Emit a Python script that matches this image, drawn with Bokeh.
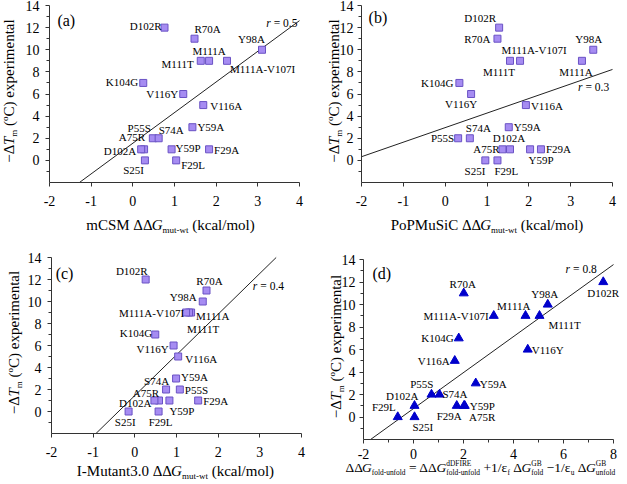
import math
from bokeh.plotting import figure
from bokeh.models import Range1d, FixedTicker, Label, LabelSet, ColumnDataSource, CustomJSTickFormatter
from bokeh.layouts import column, row
from bokeh.core.properties import value
from bokeh.embed import file_html
from bokeh.resources import INLINE

# ---------------- data ----------------
mutants = ["D102R", "R70A", "Y98A", "M111A", "M111T", "M111A-V107I", "K104G", "V116Y",
           "V116A", "Y59A", "P55S", "S74A", "A75R", "D102A", "Y59P", "F29A", "S25I", "F29L"]
neg_dtm = [12, 11, 10, 9, 9, 9, 7, 6, 5, 3, 2, 2, 1, 1, 1, 1, 0, 0]
mcsm = [0.76, 1.48, 3.10, 1.83, 1.63, 2.26, 0.25, 1.21, 1.69, 1.43, 0.48, 0.62, 0.27, 0.20, 0.93, 1.83, 0.29, 1.04]
popmusic = [1.29, 1.25, 3.54, 3.27, 1.55, 1.79, 0.34, 0.62, 1.93, 1.52, 0.31, 0.59, 1.37, 1.55, 2.03, 2.29, 0.96, 1.25]
imutant = [0.26, 1.72, 1.63, 1.35, 1.30, 1.23, 0.49, 0.93, 1.04, 0.99, 1.08, 0.75, 0.58, 0.47, 0.83, 1.52, -0.15, 0.57]
ddg_fold = [7.59, 2.01, 5.37, 4.48, 5.04, 3.21, 1.81, 4.57, 1.65, 2.49, 0.72, 1.04, 2.02, 0.04, 2.05, 1.73, 0.04, -0.63]

# fitted lines: (slope, intercept)
fit_a = (2.77, 1.55)
fit_b = (1.315, 2.96)
fit_c = (3.70, 1.45)
fit_d = (1.60, 0.75)
r_values = ["0.5", "0.3", "0.4", "0.8"]
panel_letters = ["(a)", "(b)", "(c)", "(d)"]

x_ticks_abc = [-2, -1, 0, 1, 2, 3, 4]
x_ticks_d = [-2, 0, 2, 4, 6, 8]
x_minor_d = [-1, 1, 3, 5, 7]
y_ticks = [0, 2, 4, 6, 8, 10, 12, 14]
y_minor = [-1, 1, 3, 5, 7, 9, 11, 13]

# ---------------- styling / placement ----------------
FONT = "Liberation Serif"
SQ_FILL = "#A68CF2"
SQ_LINE = "#6A52C4"
TRI_FILL = "#0000CC"

# label placement per panel: mutant -> (align, dx, dy) in screen px
PLACE_A = {
    "D102R": ("right", -3, 2), "R70A": ("left", 0, 10), "Y98A": ("right", 3, 11),
    "M111A": ("center", 0, 10), "M111T": ("right", -7, -3), "M111A-V107I": ("left", 3, -8),
    "K104G": ("right", -5, 1), "V116Y": ("right", -5, 0), "V116A": ("left", 7, -1),
    "Y59A": ("left", 5, 0), "P55S": ("right", -2, 10), "S74A": ("left", 0, 8),
    "A75R": ("right", 1, 12), "D102A": ("right", -5, -2), "Y59P": ("left", 4, 1),
    "F29A": ("left", 5, -1), "S25I": ("right", -1, -10), "F29L": ("left", 5, -5),
}
PLACE_B = {
    "D102R": ("right", -3, 10), "R70A": ("right", -7, 0), "Y98A": ("right", 9, 11),
    "M111A-V107I": ("center", 14, 11), "M111T": ("center", -11, -11), "M111A": ("center", -6, -11),
    "K104G": ("right", -6, 0), "V116Y": ("center", -10, -10), "V116A": ("left", 5, -1),
    "Y59A": ("left", 5, 0), "S74A": ("left", -4, 10), "P55S": ("right", -4, 0),
    "D102A": ("center", -1, 11), "A75R": ("right", -3, 0), "Y59P": ("center", 11, -11),
    "F29A": ("left", 5, 0), "S25I": ("right", 0, -11), "F29L": ("left", -3, -11),
}
PLACE_C = {
    "D102R": ("right", 2, 9), "R70A": ("center", 3, 10), "Y98A": ("right", -6, 5),
    "M111A-V107I": ("right", -2, 0), "M111A": ("left", 5, -3), "M111T": ("left", -2, -16),
    "K104G": ("right", -3, 2), "V116Y": ("right", -5, -3), "V116A": ("left", 7, -2),
    "Y59A": ("left", 5, 2), "S74A": ("right", 3, 9), "P55S": ("left", 5, 0),
    "A75R": ("right", 0, 8), "D102A": ("right", -3, -2), "Y59P": ("left", 0, -10),
    "F29A": ("left", 5, 0), "S25I": ("right", 7, -10), "F29L": ("center", 2, -10),
}
PLACE_D = {
    "R70A": ("center", -1, 9), "Y98A": ("center", -3, 11), "D102R": ("center", 0, -11),
    "M111A-V107I": ("right", -5, 0), "M111A": ("right", 5, 10), "M111T": ("left", 9, -9),
    "K104G": ("right", -5, 0), "V116Y": ("left", 4, 0), "V116A": ("right", -5, 0),
    "Y59A": ("left", 4, -1), "P55S": ("right", 2, 11), "S74A": ("left", 3, 1),
    "D102A": ("right", 4, 10), "F29L": ("right", -2, 10), "S25I": ("left", -2, -10),
    "F29A": ("right", 5, -10), "Y59P": ("left", 5, 0), "A75R": ("left", 5, -11),
}

# Times / Liberation Serif advance widths (per 1000 em)
W = {' ': 250, '(': 333, ')': 333, '-': 333, '.': 250, '/': 278, '=': 564, '+': 564, '\u2212': 564,
     '\u0394': 612, '\u03b5': 440, 'A': 722, 'B': 667, 'C': 667, 'D': 722, 'E': 611, 'F': 556,
     'G': 722, 'I': 333, 'M': 889, 'P': 556, 'R': 667, 'S': 556, 'T': 611, 'U': 722, 'V': 722,
     'a': 444, 'b': 500, 'c': 444, 'd': 500, 'e': 444, 'f': 333, 'i': 278, 'k': 500, 'l': 278,
     'm': 778, 'n': 500, 'o': 500, 'p': 500, 'r': 333, 's': 389, 't': 278, 'u': 500, 'w': 722,
     'x': 500}
WI = {'G': 722, 'T': 556, 'r': 389}
BASE_CORR = 0.3  # measured baseline drift of Label text, in em


def text_width(s, size, italic=False):
    tot = 0
    for ch in s:
        if italic and ch in WI:
            tot += WI[ch]
        else:
            tot += W.get(ch, 500)
    return tot * size / 1000.0


def pieces_width(pieces):
    tot = 0
    for text, size, style, rise, adv in pieces:
        if adv:
            tot += text_width(text, size, style == "italic")
    return tot


def add_rich(p, pieces, x0, y0, vertical=False):
    pos = 0.0
    for text, size, style, rise, adv in pieces:
        it = style == "italic"
        lead = len(text) - len(text.lstrip(" "))
        core = text.strip(" ")
        start = pos + lead * 250 * size / 1000.0
        up = rise + BASE_CORR * size
        if vertical:
            lx, ly, ang = x0 - up, y0 + start, math.pi / 2
        else:
            lx, ly, ang = x0 + start, y0 + up, 0.0
        p.add_layout(Label(x=lx, y=ly, x_units="screen", y_units="screen", text=core,
                           text_font=FONT, text_font_size=f"{size:.2f}px", text_font_style=style,
                           text_align="left", text_baseline="alphabetic", angle=ang,
                           text_color="#000000"))
        if adv:
            pos += text_width(text, size, it)


def y_label_pieces(s=15.0):
    ss = s * 0.6
    return [("\u2212\u0394", s, "normal", 0, True), ("T", s, "italic", 0, True),
            ("m", ss, "normal", -0.22 * s, True), (" (", s, "normal", 0, True),
            ("o", ss, "normal", 0.38 * s, True), ("C) experimental", s, "normal", 0, True)]


def x_label_pieces(prefix, s=15.0):
    ss = s * 0.6
    return [(prefix + " \u0394\u0394", s, "normal", 0, True), ("G", s, "italic", 0, True),
            ("mut-wt", ss, "normal", -0.22 * s, True), (" (kcal/mol)", s, "normal", 0, True)]


def d_label_pieces(s=13.5):
    ss = s * 0.55
    sub, sup = -0.25 * s, 0.45 * s
    return [("\u0394\u0394", s, "normal", 0, True), ("G", s, "italic", 0, True),
            ("fold-unfold", ss, "normal", sub, True), (" = \u0394\u0394", s, "normal", 0, True),
            ("G", s, "italic", 0, True), ("dDFIRE", ss, "normal", sup, False),
            ("fold-unfold", ss, "normal", sub, True), (" +1/", s, "normal", 0, True),
            ("\u03b5", s, "normal", 0, True), ("f", ss, "normal", sub, True),
            (" \u0394", s, "normal", 0, True), ("G", s, "italic", 0, True),
            ("GB", ss, "normal", sup, False), ("fold", ss, "normal", sub, True),
            (" \u22121/", s, "normal", 0, True), ("\u03b5", s, "normal", 0, True),
            ("u", ss, "normal", sub, True), (" \u0394", s, "normal", 0, True),
            ("G", s, "italic", 0, True), ("GB", ss, "normal", sup, False),
            ("unfold", ss, "normal", sub, True)]


def clip_line(fit, xb, yb):
    m, b = fit
    xs = [xb[0], xb[1]]
    ys = [m * v + b for v in xs]
    out_x, out_y = [], []
    for xv, yv in zip(xs, ys):
        if yv < yb[0]:
            xv, yv = (yb[0] - b) / m, yb[0]
        elif yv > yb[1]:
            xv, yv = (yb[1] - b) / m, yb[1]
        out_x.append(xv)
        out_y.append(yv)
    return out_x, out_y


def make_panel(xvals, xb, xticks, xminor, marker, fit, r_text, r_pos, letter, letter_pos,
               place, xlab, W_, H_, L, R, T, B, ylab_dx, xlab_dy, standoff, xlab_x=None,
               xlab_shift=0, x_standoff=9, ylab_shift=3):
    yb = (-2, 14)
    fw, fh = W_ - L - R, H_ - T - B
    sx = fw / (xb[1] - xb[0])
    sy = fh / (yb[1] - yb[0])
    xr = Range1d(xb[0] - L / sx, xb[1] + R / sx)
    yr = Range1d(yb[0] - B / sy, yb[1] + T / sy)
    p = figure(width=W_, height=H_, x_range=xr, y_range=yr,
               output_backend="svg", toolbar_location=None, title=None, min_border=0,
               min_border_left=0, min_border_right=0, min_border_top=0, min_border_bottom=0)
    p.xgrid.visible = False
    p.ygrid.visible = False
    p.outline_line_color = None
    p.background_fill_color = "white"
    p.border_fill_color = "white"

    fmt = CustomJSTickFormatter(code="return String(tick);")
    for ax in (p.xaxis[0], p.yaxis[0]):
        ax.axis_line_color = "#333333"
        ax.major_tick_line_color = "#333333"
        ax.minor_tick_line_color = "#333333"
        ax.major_tick_in = 0
        ax.major_tick_out = 4
        ax.minor_tick_in = 0
        ax.minor_tick_out = 3
        ax.major_label_text_font = FONT
        ax.major_label_text_font_size = "14px"
        ax.major_label_text_color = "#000000"
        ax.major_label_standoff = standoff
        ax.axis_label = None
        ax.formatter = fmt
    p.xaxis[0].major_label_standoff = x_standoff
    p.xaxis[0].ticker = FixedTicker(ticks=xticks, minor_ticks=xminor)
    p.yaxis[0].ticker = FixedTicker(ticks=y_ticks, minor_ticks=y_minor)
    p.xaxis[0].fixed_location = yb[0]
    p.yaxis[0].fixed_location = xb[0]
    p.xaxis[0].bounds = xb
    p.yaxis[0].bounds = yb

    # regression line (kept inside the axes box)
    lx, ly = clip_line(fit, xb, yb)
    p.line(lx, ly, line_color="#222222", line_width=1)

    # points
    if marker == "square":
        p.scatter(xvals, neg_dtm, marker="square", size=7, fill_color=SQ_FILL,
                  line_color=SQ_LINE, line_width=1)
    else:
        p.scatter(xvals, neg_dtm, marker="triangle", size=9, fill_color=TRI_FILL,
                  line_color=TRI_FILL, line_width=1)

    # point labels
    for align in ("left", "right", "center"):
        d = dict(x=[], y=[], t=[], dx=[], dy=[])
        for m, xv, yv in zip(mutants, xvals, neg_dtm):
            a, dx, dy = place[m]
            if a == align:
                d["x"].append(xv); d["y"].append(yv); d["t"].append(m)
                d["dx"].append(dx); d["dy"].append(dy)
        if d["x"]:
            p.add_layout(LabelSet(x="x", y="y", text="t", x_offset="dx", y_offset="dy",
                                  source=ColumnDataSource(d), text_align=align,
                                  text_baseline="middle", text_font=value(FONT),
                                  text_font_size="11px", text_color="#000000"))

    # r label (data coords, right aligned)
    rest = "= " + r_text
    p.add_layout(Label(x=r_pos[0], y=r_pos[1], text=rest, text_align="right",
                       text_baseline="middle", text_font=FONT, text_font_size="11.5px",
                       text_color="#000000"))
    p.add_layout(Label(x=r_pos[0], y=r_pos[1], text="r", text_align="right",
                       x_offset=-(text_width(rest, 11.5) + 3.0), text_baseline="middle",
                       text_font=FONT, text_font_size="11.5px", text_font_style="italic",
                       text_color="#000000"))
    # panel letter
    p.add_layout(Label(x=letter_pos[0], y=letter_pos[1], text=letter, text_align="left",
                       text_baseline="middle", text_font=FONT, text_font_size="16px",
                       text_color="#000000"))

    # y axis label (rotated)
    yp = y_label_pieces()
    add_rich(p, yp, L + ylab_dx, B + fh / 2 - pieces_width(yp) / 2 + ylab_shift, vertical=True)
    # x axis label
    if xlab_x is None:
        xlab_x = fw / 2 - pieces_width(xlab) / 2 + xlab_shift
    add_rich(p, xlab, L + xlab_x, B - xlab_dy)
    return p


pa = make_panel(mcsm, (-2, 4), x_ticks_abc, [], "square", fit_a, r_values[0], (3.95, 12.4),
                panel_letters[0], (-1.81, 12.64), PLACE_A, x_label_pieces("mCSM"),
                310, 240, 49, 11, 5, 58, -36, 47, 6, xlab_shift=-4)
pb = make_panel(popmusic, (-2, 4), x_ticks_abc, [], "square", fit_b, r_values[1], (3.92, 6.6),
                panel_letters[1], (-1.83, 12.9), PLACE_B, x_label_pieces("PoPMuSiC"),
                315, 240, 51, 13, 5, 58, -23, 47, 4)
pc = make_panel(imutant, (-2, 4), x_ticks_abc, [], "square", fit_c, r_values[2], (3.58, 11.45),
                panel_letters[2], (-1.9, 12.55), PLACE_C, x_label_pieces("I-Mutant3.0"),
                310, 242, 51, 9, 17, 49, -33, 42, 6, xlab_shift=-1)
pd_ = make_panel(ddg_fold, (-2, 8), x_ticks_d, x_minor_d, "triangle", fit_d, r_values[3], (7.33, 13.2),
                 panel_letters[3], (-1.64, 12.76), PLACE_D, d_label_pieces(),
                 315, 242, 53, 12, 19, 43, -23, 32, 4, xlab_x=-18, x_standoff=5)

layout = column(row(pa, pb, spacing=0), row(pc, pd_, spacing=0), spacing=0)
open("out.html", "w").write(file_html(layout, INLINE))
